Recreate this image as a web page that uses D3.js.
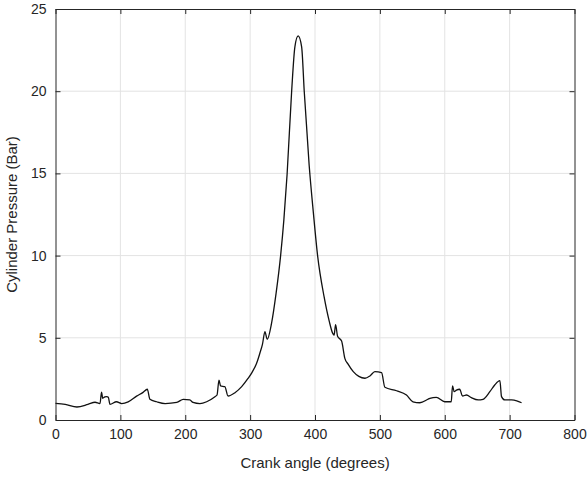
<!DOCTYPE html>
<html><head><meta charset="utf-8">
<script src="https://cdn.jsdelivr.net/npm/d3@7"></script>
<style>body{margin:0;background:#fff}</style>
</head><body>
<svg id="c" width="588" height="479"></svg>
<script>
const crankAngle = [0,15,33,50,61,68.6,71,72.7,76,79,81.4,84,94,102,112,125,135,141.5,145.6,156,169,187,197,207,212,222.6,233,245.8,249,252,254.5,261,266,276.6,287,297,303,310,315,319,322.8,326.3,333,340,347,352,357,364,369,374,379.4,383.4,391,397.5,404,414,422,427,429.5,431.7,434.8,441,446,451,459,467.6,477,484.6,492.3,502.6,507.7,525.7,541,551,561.6,574,577,587,600,610,612,614.6,618,623,627.4,633.6,641,651.5,659,669.5,677,685,687.5,692.5,703,711,718.4];
const pressure = [1.01,0.95,0.79,0.95,1.08,1.0,1.7,1.32,1.4,1.42,1.38,0.95,1.11,1.0,1.1,1.45,1.68,1.87,1.26,1.11,1.0,1.07,1.26,1.22,1.07,1.0,1.11,1.42,1.52,2.43,2.07,2.03,1.46,1.66,2.03,2.54,2.9,3.45,4.06,4.6,5.37,4.91,5.88,7.7,10.0,12.17,14.95,20.0,22.7,23.36,22.7,20.0,15.5,12.6,10.0,7.5,6.0,5.3,5.17,5.8,5.1,4.8,3.75,3.4,2.94,2.65,2.54,2.68,2.94,2.88,1.99,1.78,1.52,1.11,1.05,1.26,1.32,1.38,1.11,1.11,2.07,1.72,1.82,1.87,1.46,1.52,1.36,1.22,1.26,1.72,2.13,2.39,1.42,1.22,1.22,1.17,1.05];
const xTicks = [0,100,200,300,400,500,600,700,800];
const yTicks = [0,5,10,15,20,25];

const svg = d3.select('#c');
const L = 55.5, R = 574.5, T = 9, B = 420;
const x = d3.scaleLinear().domain([0,800]).range([L,R]);
const y = d3.scaleLinear().domain([0,25]).range([B,T]);
const font = "'Liberation Sans', Arial, Helvetica, sans-serif";
const ink = '#262626';

// grid
const g = svg.append('g');
g.selectAll('.gx').data(xTicks.slice(1,-1)).enter().append('line')
  .attr('x1',d=>x(d)).attr('x2',d=>x(d)).attr('y1',T).attr('y2',B)
  .attr('stroke','#e3e3e3').attr('stroke-width',1);
g.selectAll('.gy').data(yTicks.slice(1,-1)).enter().append('line')
  .attr('y1',d=>y(d)).attr('y2',d=>y(d)).attr('x1',L).attr('x2',R)
  .attr('stroke','#e3e3e3').attr('stroke-width',1);

// data line
const line = d3.line().x((d,i)=>x(crankAngle[i])).y(d=>y(d)).curve(d3.curveMonotoneX);
svg.append('path').datum(pressure).attr('d',line)
  .attr('fill','none').attr('stroke','#111').attr('stroke-width',1.3);

// axes (ticks inside)
const ax = (axis)=>axis.tickSizeInner(-5).tickSizeOuter(0).tickPadding(9);
const axB = svg.append('g').attr('transform',`translate(0,${B})`)
  .call(ax(d3.axisBottom(x).tickValues(xTicks).tickFormat(d3.format('d'))));
const axT = svg.append('g').attr('transform',`translate(0,${T})`)
  .call(ax(d3.axisTop(x).tickValues(xTicks).tickFormat('')));
const axL = svg.append('g').attr('transform',`translate(${L},0)`)
  .call(ax(d3.axisLeft(y).tickValues(yTicks).tickFormat(d3.format('d'))));
const axR = svg.append('g').attr('transform',`translate(${R},0)`)
  .call(ax(d3.axisRight(y).tickValues(yTicks).tickFormat('')));
[axB,axT,axL,axR].forEach(a=>{
  a.select('.domain').attr('stroke',ink).attr('stroke-width',1);
  a.selectAll('.tick line').attr('stroke',ink);
  a.selectAll('text').attr('fill',ink).style('font-family',font).style('font-size','14px');
});

svg.append('text').attr('x',(L+R)/2).attr('y',468).attr('text-anchor','middle')
  .attr('fill',ink).style('font-family',font).style('font-size','15px')
  .text('Crank angle (degrees)');
svg.append('text').attr('transform',`translate(17,${(T+B)/2}) rotate(-90)`)
  .attr('text-anchor','middle').attr('fill',ink)
  .style('font-family',font).style('font-size','15px')
  .text('Cylinder Pressure (Bar)');
</script>
</body></html>
